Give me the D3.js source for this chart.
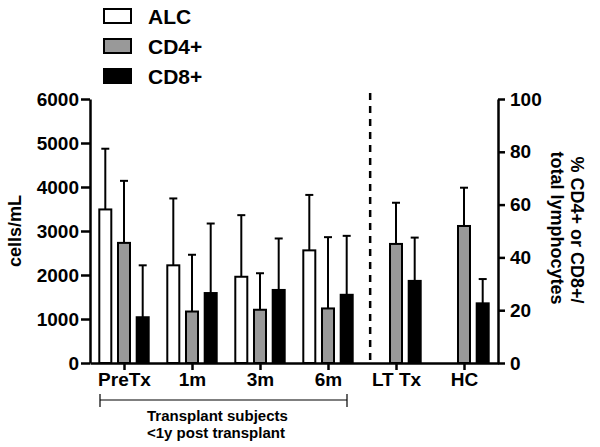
<!DOCTYPE html>
<html>
<head>
<meta charset="utf-8">
<script src="https://cdn.jsdelivr.net/npm/d3@7"></script>
<style>
  body { margin: 0; background: #fff; }
  svg { display: block; font-family: "Liberation Sans", Arial, Helvetica, sans-serif; font-weight: bold; }
</style>
</head>
<body>
<script>
// ---- data ----
const categories = ["PreTx", "1m", "3m", "6m", "LT Tx", "HC"];
// unit of each category: cells/mL on left axis, % on right axis
const units = ["cells", "cells", "cells", "cells", "pct", "pct"];
const seriesNames = ["ALC", "CD4+", "CD8+"];
const alcMean  = [3490, 2220, 1960, 2560, null, null];
const alcUpper = [4870, 3740, 3360, 3820, null, null];
const cd4Mean  = [2730, 1170, 1210, 1240, 45.1, 51.9];
const cd4Upper = [4140, 2460, 2040, 2860, 60.7, 66.4];
const cd8Mean  = [1040, 1590, 1660, 1550, 31.1, 22.6];
const cd8Upper = [2220, 3170, 2830, 2890, 47.5, 31.8];
const leftTicks = [0, 1000, 2000, 3000, 4000, 5000, 6000];
const rightTicks = [0, 20, 40, 60, 80, 100];
const groupNote = ["Transplant subjects", "<1y post transplant"];

const means = { "ALC": alcMean, "CD4+": cd4Mean, "CD8+": cd8Mean };
const uppers = { "ALC": alcUpper, "CD4+": cd4Upper, "CD8+": cd8Upper };
const fills = { "ALC": "#ffffff", "CD4+": "#999999", "CD8+": "#000000" };

// ---- layout ----
const W = 600, H = 447;
const pL = 90, pR = 498, pT = 99, pB = 363;

const svg = d3.select("body").append("svg").attr("width", W).attr("height", H);

const x = d3.scalePoint().domain(categories).range([pL, pR]).padding(0.5);
const sub = d3.scaleBand().domain(seriesNames).range([-24.7, 24.7]).paddingInner(0.358);
const yL = d3.scaleLinear().domain([0, 6000]).range([pB, pT]);
const yR = d3.scaleLinear().domain([0, 100]).range([pB, pT]);

// ---- bars ----
const bars = [];
categories.forEach((c, i) => {
  seriesNames.forEach(s => {
    const v = means[s][i];
    if (v == null) return;
    bars.push({ c, s, v, u: uppers[s][i], scale: units[i] === "cells" ? yL : yR });
  });
});

const g = svg.append("g");
const bw = sub.bandwidth();

// error bars
g.selectAll("line.err").data(bars).join("line").attr("class", "err")
  .attr("x1", d => x(d.c) + sub(d.s) + bw / 2)
  .attr("x2", d => x(d.c) + sub(d.s) + bw / 2)
  .attr("y1", d => d.scale(d.v))
  .attr("y2", d => d.scale(d.u))
  .attr("stroke", "#000").attr("stroke-width", 2);
g.selectAll("line.cap").data(bars).join("line").attr("class", "cap")
  .attr("x1", d => x(d.c) + sub(d.s) + bw / 2 - 4)
  .attr("x2", d => x(d.c) + sub(d.s) + bw / 2 + 4)
  .attr("y1", d => d.scale(d.u))
  .attr("y2", d => d.scale(d.u))
  .attr("stroke", "#000").attr("stroke-width", 2);

g.selectAll("rect.bar").data(bars).join("rect").attr("class", "bar")
  .attr("x", d => x(d.c) + sub(d.s))
  .attr("y", d => d.scale(d.v))
  .attr("width", bw)
  .attr("height", d => d.scale(0) - d.scale(d.v))
  .attr("fill", d => fills[d.s])
  .attr("stroke", "#000").attr("stroke-width", 2);

// dashed divider
const step = x.step();
const divX = x("6m") + 0.62 * step;
svg.append("line")
  .attr("x1", divX).attr("x2", divX)
  .attr("y1", pT - 6).attr("y2", pB)
  .attr("stroke", "#000").attr("stroke-width", 2.5)
  .attr("stroke-dasharray", "7,6");

// ---- axes ----
function styleAxis(sel, fs) {
  sel.selectAll("path.domain").attr("stroke", "#000").attr("stroke-width", 2.5);
  sel.selectAll(".tick line").attr("stroke", "#000").attr("stroke-width", 2.5);
  sel.selectAll(".tick text").attr("fill", "#000")
    .style("font-size", fs + "px").style("font-weight", "bold")
    .style("font-family", "'Liberation Sans', Arial, sans-serif");
}

const axL = svg.append("g").attr("transform", `translate(${pL},0)`)
  .call(d3.axisLeft(yL).tickValues(leftTicks).tickSize(9).tickSizeOuter(0).tickPadding(2).tickFormat(d3.format("d")));
styleAxis(axL, 19);

const axR = svg.append("g").attr("transform", `translate(${pR},0)`)
  .call(d3.axisRight(yR).tickValues(rightTicks).tickSize(7).tickSizeOuter(0).tickPadding(5));
styleAxis(axR, 19);

const axB = svg.append("g").attr("transform", `translate(0,${pB})`)
  .call(d3.axisBottom(x).tickSize(7).tickSizeOuter(0).tickPadding(3));
styleAxis(axB, 19);

// axis titles
svg.append("text")
  .attr("transform", `translate(21,231) rotate(-90)`)
  .attr("text-anchor", "middle")
  .style("font-size", "18px")
  .text("cells/mL");

svg.append("text")
  .attr("transform", `translate(571,230) rotate(90)`)
  .attr("text-anchor", "middle")
  .style("font-size", "18px")
  .text("% CD4+ or CD8+/");
svg.append("text")
  .attr("transform", `translate(551,228) rotate(90)`)
  .attr("text-anchor", "middle")
  .style("font-size", "18px")
  .text("total lymphocytes");

// ---- legend ----
const lg = svg.append("g");
seriesNames.forEach((s, i) => {
  lg.append("rect")
    .attr("x", 104).attr("y", 9 + i * 30)
    .attr("width", 27).attr("height", 14)
    .attr("fill", fills[s]).attr("stroke", "#000").attr("stroke-width", 2);
  lg.append("text")
    .attr("x", 148).attr("y", 24 + i * 30)
    .style("font-size", "21px")
    .text(s);
});

// ---- bracket for transplant subjects ----
const bx1 = x("PreTx") - 24, bx2 = x("6m") + 19, by = 400;
svg.append("line").attr("x1", bx1).attr("x2", bx2).attr("y1", by).attr("y2", by)
  .attr("stroke", "#000").attr("stroke-width", 1.2);
[bx1, bx2].forEach(bx => {
  svg.append("line").attr("x1", bx).attr("x2", bx).attr("y1", by - 6).attr("y2", by + 7)
    .attr("stroke", "#000").attr("stroke-width", 1.2);
});
groupNote.forEach((t, i) => {
  svg.append("text")
    .attr("x", 147).attr("y", 421 + i * 17)
    .style("font-size", "15px")
    .text(t);
});
</script>
</body>
</html>
